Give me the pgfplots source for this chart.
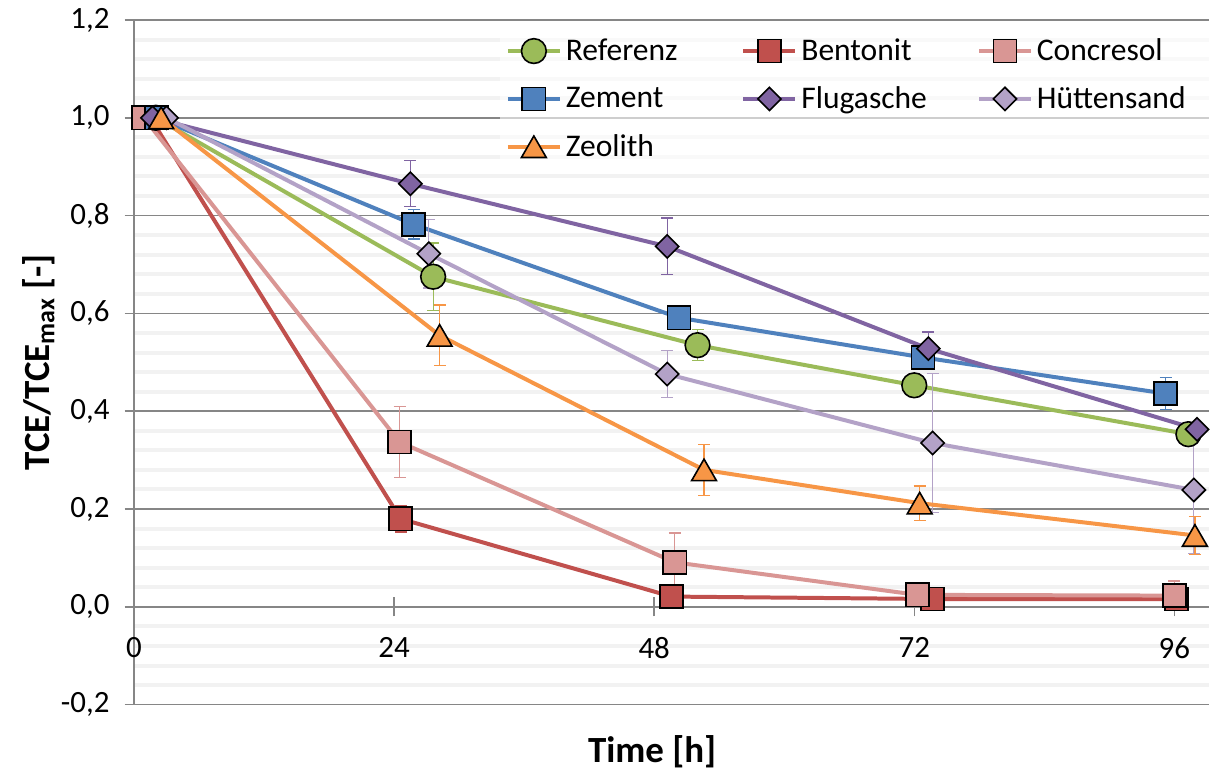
\documentclass[border=0pt]{standalone}
\usepackage{fontspec}
\setmainfont{Carlito}
\usepackage{pgfplots}
\pgfplotsset{compat=1.18}
\definecolor{cRef}{HTML}{9BBB59}
\definecolor{cBen}{HTML}{C0504D}
\definecolor{cCon}{HTML}{D99694}
\definecolor{cZem}{HTML}{4F81BD}
\definecolor{cFlu}{HTML}{8064A2}
\definecolor{cHue}{HTML}{B3A2C7}
\definecolor{cZeo}{HTML}{F79646}
\definecolor{gridgray}{HTML}{868686}
\definecolor{band}{HTML}{F2F2F2}
\pgfplotsset{
  ser/.style n args={4}{color=#1, line width=2pt, mark=#2, mark size=#3,
    mark options={draw=black, fill=#1, fill opacity=1, draw opacity=1, line width=0.8pt, solid, #4},
    error bars/y dir=both, error bars/y explicit,
    error bars/error bar style={line width=0.6pt, color=#1},
    error bars/error mark options={rotate=90, mark size=3pt, line width=0.6pt, color=#1}},
}
\begin{document}
\begin{tikzpicture}
\begin{axis}[
  name=ax,
  scale only axis, width=538.5pt, height=343pt,
  xmin=0, xmax=99.2, ymin=-0.2, ymax=1.2,
  axis x line=middle, axis y line=left,
  axis line style={-, draw=gridgray, line width=0.75pt},
  hide obscured x ticks=false,
  xtick={0,24,48,72,96},
  ytick={-0.2,0,0.2,0.4,0.6,0.8,1.0,1.2},
  minor y tick num=4,
  ymajorgrids, yminorgrids,
  major grid style={draw=gridgray, line width=0.75pt},
  minor grid style={draw=band, line width=2pt},
  tick align=center, major tick length=9.5pt, minor tick length=0pt,
  tick style={draw=gridgray, line width=0.75pt},
  tick label style={font=\fontsize{15.5}{18}\selectfont, /pgf/number format/assume math mode=true},
  yticklabel style={xshift=-4pt, /pgf/number format/.cd, fixed, fixed zerofill, precision=1, use comma},
  xticklabel style={yshift=-7pt},
  every axis x label/.style={at={(axis description cs:0.482,0)}, anchor=north, yshift=-12pt, font=\bfseries\fontsize{18.5}{22}\selectfont},
  every axis y label/.style={at={(axis description cs:-0.089,0.5)}, rotate=90, anchor=center, font=\bfseries\fontsize{18.5}{22}\selectfont},
  xlabel={Time [h]},
  ylabel={TCE/TCE\textsubscript{max} [-]},
  legend columns=3,
  legend cell align=left,
  legend style={at={(0.34,0.985)}, anchor=north west, draw=none, fill=white, fill opacity=0.6, text opacity=1,
    font=\fontsize{15.8}{19}\selectfont, row sep=7.5pt,
    /tikz/every even column/.append style={column sep=4pt}},
  legend image code/.code={\draw[mark repeat=2,mark phase=2,#1] plot coordinates {(0pt,0pt) (13pt,0pt) (26pt,0pt)};},
]
\addplot[ser={cRef}{*}{6.2pt}{}] coordinates {
  (2.0,1.0) +- (0,0)
  (27.6,0.675) +- (0,0.069)
  (52.0,0.535) +- (0,0.032)
  (72.0,0.453) +- (0,0.02)
  (97.3,0.353) +- (0,0.02)
};
\addlegendentry{\makebox[82pt][l]{Referenz}}
\addplot[ser={cBen}{square*}{5.8pt}{}] coordinates {
  (1.5,1.0) +- (0,0)
  (24.6,0.18) +- (0,0.027)
  (49.6,0.021) +- (0,0.005)
  (73.7,0.016) +- (0,0.005)
  (96.2,0.016) +- (0,0.005)
};
\addlegendentry{\makebox[82pt][l]{Bentonit}}
\addplot[ser={cCon}{square*}{5.8pt}{}] coordinates {
  (0.9,1.0) +- (0,0)
  (24.5,0.337) +- (0,0.072)
  (49.9,0.091) +- (0,0.06)
  (72.3,0.0245) +- (0,0.01)
  (96.0,0.023) +- (0,0.03)
};
\addlegendentry{\makebox[82pt][l]{Concresol}}
\addplot[ser={cZem}{square*}{5.8pt}{}] coordinates {
  (2.1,1.0) +- (0,0)
  (25.8,0.782) +- (0,0.03)
  (50.3,0.591) +- (0,0.01)
  (72.8,0.51) +- (0,0.01)
  (95.2,0.436) +- (0,0.033)
};
\addlegendentry{\makebox[82pt][l]{Zement}}
\addplot[ser={cFlu}{square*}{4.1pt}{rotate=45}] coordinates {
  (1.7,1.0) +- (0,0)
  (25.5,0.865) +- (0,0.047)
  (49.2,0.737) +- (0,0.058)
  (73.3,0.528) +- (0,0.034)
  (98.1,0.363) +- (0,0.01)
};
\addlegendentry{\makebox[82pt][l]{Flugasche}}
\addplot[ser={cHue}{square*}{4.1pt}{rotate=45}] coordinates {
  (3.0,1.0) +- (0,0)
  (27.2,0.722) +- (0,0.07)
  (49.2,0.476) +- (0,0.048)
  (73.7,0.335) +- (0,0.142)
  (97.8,0.239) +- (0,0.13)
};
\addlegendentry{\makebox[82pt][l]{Hüttensand}}
\addplot[ser={cZeo}{triangle*}{7.2pt}{yshift=-1.8pt}] coordinates {
  (2.5,1.0) +- (0,0)
  (28.2,0.555) +- (0,0.062)
  (52.6,0.28) +- (0,0.052)
  (72.5,0.212) +- (0,0.035)
  (97.9,0.146) +- (0,0.039)
};
\addlegendentry{\makebox[82pt][l]{Zeolith}}
\end{axis}
\path[use as bounding box] ([shift={(-67.15pt,-35.5pt)}]ax.south west) rectangle ([shift={(0pt,10pt)}]ax.north east);
\end{tikzpicture}
\end{document}
